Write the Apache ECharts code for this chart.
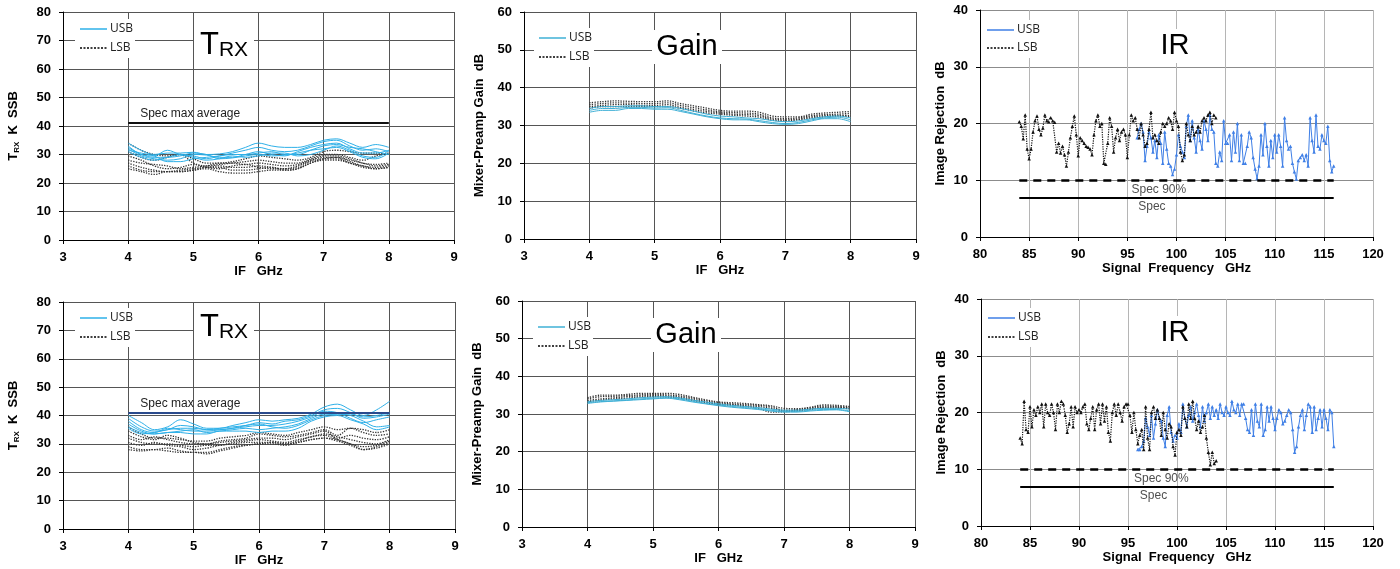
<!DOCTYPE html>
<html>
<head>
<meta charset="utf-8">
<script src="https://cdn.jsdelivr.net/npm/echarts@6/dist/echarts.min.js"></script>
<style>
html,body{margin:0;padding:0;background:#fff;}
#chart{width:1400px;height:569px;}
</style>
</head>
<body>
<div id="chart"></div>
<script>
// ---------------- DATA ----------------
const ifGHz = [4.0,4.2,4.4,4.6,4.8,5.0,5.2,5.4,5.6,5.8,6.0,6.2,6.4,6.6,6.8,7.0,7.2,7.4,7.6,7.8,8.0];

const trxTopUSB = [
  [34.0,31.5,30.0,30.5,30.5,30.8,30.0,30.2,31.0,32.5,34.0,33.0,32.5,32.5,33.5,35.0,35.5,34.0,32.5,33.5,32.5],
  [33.0,30.0,29.5,31.5,30.0,29.5,28.5,29.5,30.5,31.5,32.5,31.5,31.0,31.5,33.0,34.5,35.0,33.0,31.5,32.0,31.0],
  [32.0,29.5,28.5,28.0,28.5,30.0,29.8,29.0,29.0,30.0,31.0,30.0,29.5,31.0,32.5,33.5,34.0,32.0,30.5,30.5,31.5],
  [31.5,30.5,29.5,27.5,27.5,28.5,29.0,29.5,30.0,30.0,30.5,31.0,30.0,30.0,31.5,33.0,33.5,32.5,32.0,31.0,30.0],
  [32.5,30.0,29.0,29.0,29.5,30.5,30.0,28.5,28.8,29.5,30.0,29.5,29.8,30.5,31.5,32.0,32.5,31.0,29.0,28.5,30.5],
  [31.0,29.0,28.0,29.0,30.0,29.0,28.0,28.5,29.5,29.0,29.5,30.5,30.5,29.5,30.0,31.5,33.0,31.5,29.5,29.0,31.5]
];
const trxTopLSB = [
  [34.0,31.5,30.0,29.5,30.0,28.5,27.0,27.0,27.5,28.5,29.5,29.0,28.5,28.0,29.0,31.0,31.5,31.0,30.5,30.5,30.0],
  [31.0,29.0,28.0,29.0,30.0,27.0,26.0,26.5,27.0,27.5,28.0,27.5,27.0,27.0,28.5,30.0,30.0,29.0,28.0,29.5,30.5],
  [28.0,27.0,26.5,26.0,25.0,25.5,26.0,27.0,27.0,26.5,27.0,26.5,26.0,26.5,28.0,29.0,29.0,28.0,27.0,26.0,26.5],
  [27.0,25.5,24.5,24.0,24.5,25.0,25.5,26.0,25.5,25.5,26.0,25.5,25.0,25.5,27.5,28.5,28.5,27.0,26.0,25.0,25.5],
  [26.0,24.5,24.0,24.0,24.0,24.5,25.5,25.5,24.5,24.5,25.0,25.5,24.5,25.0,27.0,28.5,29.0,27.5,26.0,25.5,26.0],
  [25.0,24.0,23.0,24.0,24.0,24.5,25.0,24.0,23.5,23.5,24.0,24.5,24.5,25.0,27.0,28.0,28.0,27.0,25.5,25.0,25.5],
  [29.5,28.0,26.0,25.0,25.5,26.5,25.5,25.0,26.0,26.5,25.5,25.0,25.0,26.0,28.0,29.5,29.5,28.5,27.0,26.5,27.0]
];
const trxBotUSB = [
  [40.0,37.5,35.0,36.0,38.5,37.0,35.5,35.5,36.5,37.5,38.5,38.0,38.5,39.0,40.5,43.0,44.0,42.0,40.0,42.0,45.0],
  [39.0,36.0,34.5,35.0,36.5,36.0,35.0,35.5,36.0,36.5,37.5,37.0,38.0,38.5,40.0,42.0,42.5,41.0,39.0,39.5,40.5],
  [38.0,35.0,34.0,35.5,35.0,34.5,34.5,35.0,35.5,36.0,36.5,36.5,37.0,38.0,39.5,41.5,41.0,39.0,37.5,38.5,39.5],
  [37.0,34.5,33.5,34.0,34.5,35.0,34.0,34.5,35.0,35.5,35.0,35.5,36.0,37.0,39.0,40.5,40.5,40.0,38.0,36.0,36.5],
  [36.0,34.0,33.5,34.0,34.0,33.5,33.5,34.5,34.5,34.5,34.0,34.5,34.5,35.5,38.0,39.5,40.0,38.5,37.0,35.0,36.0],
  [35.5,33.5,34.0,35.0,35.5,35.5,35.0,35.0,35.5,36.5,37.0,36.0,35.5,36.5,38.5,40.0,40.5,40.5,39.5,40.0,41.0]
];
const trxBotLSB = [
  [36.0,33.5,32.0,32.0,31.5,31.0,31.0,32.0,32.5,33.0,34.0,33.5,33.0,34.0,35.0,36.0,35.0,35.5,35.0,34.0,35.0],
  [34.5,32.5,31.5,33.0,32.0,30.5,30.0,31.0,31.5,32.0,33.5,33.0,32.5,33.0,34.0,35.0,33.0,35.5,34.0,33.0,33.5],
  [33.0,31.5,32.5,31.5,30.5,30.0,30.0,30.5,31.0,31.5,32.0,32.0,31.5,32.5,33.5,34.5,32.0,33.0,32.0,31.5,32.5],
  [32.0,30.5,30.0,30.0,29.5,29.0,29.5,29.5,30.5,31.0,31.5,31.0,30.5,31.5,32.5,33.5,32.5,31.5,30.5,30.0,31.5],
  [30.5,29.5,30.5,29.5,29.0,28.0,28.5,29.5,30.0,30.5,30.5,30.5,30.0,31.0,32.5,33.0,31.5,30.0,29.0,29.5,31.0],
  [29.0,28.0,28.0,28.5,27.5,27.0,27.0,28.0,29.0,29.5,30.0,30.5,30.0,30.5,31.5,32.0,31.0,29.5,28.0,29.0,30.5],
  [28.0,27.5,28.0,27.5,27.0,27.0,26.5,27.5,28.5,29.5,30.0,30.0,29.5,30.5,31.5,32.0,31.5,30.0,28.0,28.5,30.0]
];
const trxSpecMax = 41;

const gainTopUSB = [
  [34.5,35.0,35.0,35.2,35.2,35.0,35.0,34.5,33.8,33.0,32.5,32.3,32.0,31.8,31.3,31.0,31.2,31.8,32.3,32.5,32.0],
  [34.0,34.5,34.5,34.8,34.8,34.6,34.7,34.0,33.2,32.5,32.0,31.8,31.7,31.3,30.8,30.5,30.8,31.5,32.0,32.2,31.5],
  [33.5,34.0,34.0,34.5,34.5,34.3,34.3,33.7,33.0,32.3,31.8,31.5,31.5,31.0,30.5,30.3,30.5,31.2,31.8,31.8,31.0]
];
const gainTopLSB = [
  [36.0,36.3,36.5,36.4,36.3,36.3,36.5,35.8,35.2,34.6,34.0,33.8,33.8,33.5,32.5,32.3,32.3,33.0,33.3,33.5,33.7],
  [35.5,35.8,36.0,35.9,35.8,35.8,36.0,35.3,34.7,34.1,33.6,33.4,33.3,33.0,32.0,31.8,32.0,32.6,32.9,33.0,33.2],
  [35.0,35.3,35.5,35.5,35.3,35.3,35.5,34.8,34.2,33.7,33.3,33.0,32.9,32.6,31.7,31.5,31.7,32.3,32.6,32.7,32.6],
  [34.5,35.0,35.0,35.0,35.0,35.0,35.0,34.5,33.8,33.3,33.0,32.7,32.5,32.2,31.4,31.2,31.5,32.0,32.3,32.5,32.3]
];
const gainBotUSB = [
  [33.3,33.6,33.8,34.0,34.3,34.5,34.6,34.3,33.7,33.2,32.7,32.3,32.0,31.7,31.3,31.0,31.0,31.3,31.5,31.5,31.3],
  [33.0,33.3,33.5,33.7,34.0,34.2,34.3,34.0,33.4,32.8,32.4,32.0,31.7,31.4,31.0,30.7,30.7,31.0,31.2,31.2,30.8],
  [32.8,33.2,33.4,33.6,33.8,34.0,34.2,33.8,33.2,32.7,32.2,31.8,31.5,31.2,30.8,30.5,30.5,30.8,31.0,31.1,30.6]
];
const gainBotLSB = [
  [34.3,35.0,35.0,35.2,35.5,35.5,35.5,35.2,34.5,33.8,33.2,33.0,32.8,32.5,32.2,31.5,31.4,31.8,32.4,32.3,32.0],
  [34.0,34.6,34.7,34.9,35.1,35.2,35.1,34.8,34.2,33.5,33.0,32.7,32.5,32.3,31.9,31.0,31.2,31.6,32.1,32.0,31.8],
  [33.6,34.0,34.3,34.6,34.8,34.9,34.8,34.5,33.9,33.2,32.7,32.5,32.2,32.0,31.5,30.8,31.0,31.4,31.8,31.8,31.6],
  [33.2,33.7,34.0,34.2,34.5,34.6,34.5,34.2,33.6,33.0,32.5,32.3,32.0,31.6,30.5,30.6,30.8,31.2,31.6,31.6,31.4]
];

// Image rejection: frequencies start at irLsbStart / irUsbStart, one point every irStep GHz
const irLsbStart = 84, irUsbStart = 96, irStep = 0.2;
const irTopLSB = [
  20.3,19.5,17.3,21.5,15.5,13.8,15.5,18.5,20.5,21.3,
  19.0,18.0,19.2,21.5,20.5,20.3,21.0,20.5,20.2,15.0,
  16.5,14.8,16.0,14.5,12.5,15.0,17.5,19.5,21.3,18.0,
  14.3,17.5,17.0,16.5,16.0,15.8,15.5,14.5,18.0,20.5,
  21.5,19.5,20.0,13.0,12.8,16.5,21.0,19.5,15.0,17.5,
  19.0,17.0,18.5,19.0,18.0,14.0,18.0,21.5,20.5,21.0,
  19.0,17.5,20.0,18.0,16.0,16.5,19.0,22.0,17.5,18.0,
  17.0,16.5,18.5,20.0,19.5,20.0,21.0,20.5,19.0,22.0,
  20.5,19.5,15.0,13.5,14.5,20.0,18.0,17.0,19.5,18.0,
  18.5,19.5,18.5,20.5,21.0,20.5,21.5,22.0,20.0,21.5,
  21.0
];
const irTopUSB = [
  17.5,19.0,20.0,18.5,13.5,16.0,18.5,17.5,15.0,17.0,
  14.0,18.0,16.5,13.0,18.5,15.5,13.0,12.5,11.0,12.0,
  14.5,18.0,16.0,15.0,14.0,19.5,21.5,17.0,20.5,17.5,
  15.0,19.0,17.0,15.5,20.5,19.0,17.0,21.5,19.0,18.5,
  13.0,12.5,15.0,13.5,20.5,16.5,16.5,18.0,13.5,18.5,
  15.0,20.0,13.5,18.0,13.0,13.0,16.0,18.5,17.5,14.0,
  12.0,10.3,12.5,18.0,14.5,20.0,16.0,12.5,17.0,14.0,
  18.0,15.0,18.0,16.0,12.5,21.0,17.0,15.5,16.0,13.0,
  11.5,10.2,13.5,14.0,14.5,13.5,14.5,12.5,21.0,17.0,
  15.0,21.5,16.0,15.5,18.0,17.0,16.5,19.5,13.5,11.5,
  12.5
];
const irBotLSB = [
  15.5,14.5,22.0,17.0,16.5,21.0,17.5,20.5,19.5,21.0,
  20.0,21.5,17.5,21.5,20.0,19.5,21.5,20.0,17.0,21.5,
  20.0,22.0,21.5,19.5,16.5,18.0,21.0,17.5,21.0,20.0,
  20.5,20.0,21.0,21.5,18.0,17.0,19.0,21.0,17.0,20.5,
  21.5,18.0,21.5,18.5,21.0,16.5,15.0,20.0,21.5,19.5,
  21.5,20.0,18.5,21.0,21.5,21.5,19.5,16.5,20.0,17.0,
  14.5,16.0,17.0,13.5,21.0,15.5,13.5,20.0,21.0,19.0,
  20.5,19.0,16.0,20.0,17.0,15.5,18.0,17.5,14.0,12.5,
  16.5,17.0,16.0,21.0,19.0,17.5,21.5,19.0,22.0,19.0,
  17.0,18.5,16.5,17.5,19.5,15.5,13.0,10.8,13.0,11.0,
  11.5
];
const irBotUSB = [
  13.5,13.5,14.0,15.0,19.0,17.5,16.0,19.5,15.5,18.0,
  20.5,19.0,18.5,15.5,14.0,19.5,21.0,16.5,15.0,16.0,
  15.5,18.0,16.5,21.5,19.0,17.5,19.5,21.0,18.5,20.0,
  21.5,19.5,17.5,21.0,18.5,20.0,21.5,19.0,21.0,19.5,
  20.5,19.0,21.5,20.0,19.5,21.0,20.0,19.5,22.0,20.5,
  20.0,21.5,19.5,21.5,21.5,19.0,17.0,16.5,20.5,16.0,
  21.5,18.5,17.5,21.5,16.0,17.0,21.0,18.5,21.0,19.0,
  17.0,19.0,20.5,20.0,18.0,18.5,19.5,20.5,20.0,17.0,
  13.0,14.0,17.5,19.5,20.5,17.0,19.5,21.5,21.0,16.5,
  21.0,17.0,19.0,20.5,17.5,20.5,19.0,17.0,20.5,20.0,
  14.0
];
const irSpecRange = [84, 116];
const irSpec90 = 10, irSpec = 7;
const irSpec90LabelAt = [98.2, 98.4];   // top, bottom panels
const irSpecLabelAt = [97.5, 97.6];

// ---------------- STYLE ----------------
const FONT = 'Liberation Sans';
const cCyan = '#2eb0e8', cGain = '#3fb0d6', cBlue = '#3f7fe6', cDot = '#333333';

const grids = [
  {left:63, top:12, width:391, height:228},
  {left:524, top:12, width:392, height:227},
  {left:980, top:10, width:393, height:227},
  {left:63, top:302, width:392, height:227},
  {left:522, top:301, width:393, height:226},
  {left:981, top:299, width:392, height:227}
];

const axLabel = {fontFamily:FONT, fontWeight:'bold', fontSize:13, color:'#000'};
const nameStyle = {fontFamily:FONT, fontWeight:'bold', fontSize:13, color:'#000'};

function xAx(i, kind) {
  const ir = kind === 'ir';
  return {
    type:'value', gridIndex:i,
    min: ir ? 80 : 3, max: ir ? 120 : 9, interval: ir ? 5 : 1,
    name: ir ? 'Signal  Frequency   GHz' : 'IF   GHz',
    nameLocation:'middle', nameGap:24, nameTextStyle:nameStyle,
    axisLine:{show:true, onZero:false, lineStyle:{color:'#000', width:1}},
    axisTick:{show:true, length:4, lineStyle:{color:'#000'}},
    axisLabel:Object.assign({margin:11}, axLabel),
    splitLine:{show:true, lineStyle:{color: ir ? '#b5b5b5' : '#555', width:1}}
  };
}
function yAx(i, kind) {
  const cfg = {
    trx:{max:80, name:'{t|T}{s|RX}{t|  K  SSB}', gap:42},
    gain:{max:60, name:'Mixer-Preamp Gain  dB', gap:38},
    ir:{max:40, name:'Image Rejection  dB', gap:33}
  }[kind];
  return {
    type:'value', gridIndex:i, min:0, max:cfg.max, interval:10,
    name:cfg.name, nameLocation:'middle', nameGap:cfg.gap,
    nameTextStyle:Object.assign({rich:{
      t:{fontFamily:FONT, fontWeight:'bold', fontSize:13, color:'#000'},
      s:{fontFamily:FONT, fontWeight:'bold', fontSize:8, color:'#000', padding:[7,0,0,0]}
    }}, nameStyle),
    axisLine:{show:true, onZero:false, lineStyle:{color:'#000', width:1}},
    axisTick:{show:true, length:4, lineStyle:{color:'#000'}},
    axisLabel:Object.assign({margin:12}, axLabel),
    splitLine:{show:true, lineStyle:{color: kind==='ir' ? '#8c8c8c' : '#555', width:1}}
  };
}

function curveSeries(g, rows, color, dotted) {
  return rows.map(row => ({
    type:'line', name: dotted ? 'LSB' : 'USB', xAxisIndex:g, yAxisIndex:g,
    data: ifGHz.map((x, i) => [x, row[i]]),
    symbol:'none', smooth:0.35, silent:true,
    lineStyle:{color:color, width: dotted ? 1.3 : 1, type: dotted ? 'dotted' : 'solid'},
    z: dotted ? 3 : 4
  }));
}
function irSeries(g, vals, start, color, dotted) {
  return {
    type:'line', name: dotted ? 'LSB' : 'USB', xAxisIndex:g, yAxisIndex:g,
    data: vals.map((v, i) => [Math.round((start + i * irStep) * 10) / 10, v]),
    symbol:'triangle', symbolSize:3.5, showSymbol:true, silent:true,
    itemStyle:{color:color},
    lineStyle:{color:color, width: dotted ? 1.2 : 1, type: dotted ? 'dotted' : 'solid'},
    z: dotted ? 4 : 3
  };
}
function specLine(g, y, color, label) {
  return {
    type:'line', xAxisIndex:g, yAxisIndex:g, data:[], silent:true,
    markLine:{
      symbol:'none', silent:true, animation:false,
      lineStyle:{color:color, width:2, type:'solid'},
      label:{show:true, position:'insideStartTop', formatter:label, distance:[12,3],
        fontFamily:FONT, fontSize:12, color:'#222'},
      data:[[{coord:[ifGHz[0], y]}, {coord:[ifGHz[ifGHz.length-1], y]}]]
    }
  };
}
function irSpecSeries(g, k) {
  return [
    {type:'line', xAxisIndex:g, yAxisIndex:g, data:[], silent:true,
      markLine:{symbol:'none', silent:true, animation:false, label:{show:false},
        data:[
          [{coord:[irSpecRange[0], irSpec90], lineStyle:{color:'#000', width:2.5, type:[8,6]}},
           {coord:[irSpecRange[1], irSpec90]}],
          [{coord:[irSpecRange[0], irSpec], lineStyle:{color:'#000', width:2.2, type:'solid'}},
           {coord:[irSpecRange[1], irSpec]}]
        ]}},
    {type:'scatter', xAxisIndex:g, yAxisIndex:g, silent:true, symbolSize:1,
      itemStyle:{color:'rgba(0,0,0,0)'},
      label:{show:true, position:'bottom', distance:3, fontFamily:FONT, fontSize:12, color:'#222',
        formatter: p => p.data[2]},
      data:[[irSpec90LabelAt[k], irSpec90, 'Spec 90%'], [irSpecLabelAt[k], irSpec, 'Spec']]}
  ];
}

// ---------------- GRAPHIC (legends & titles) ----------------
function legend(x, y1, y2, usbColor) {
  return [
    {type:'rect', shape:{x:x-5, y:y1-10, width:60, height:y2-y1+20}, style:{fill:'#fff'}, z:100},
    {type:'line', shape:{x1:x, y1:y1, x2:x+27, y2:y1}, style:{stroke:usbColor, lineWidth:1.5}, z:101},
    {type:'text', x:x+30, y:y1, z:101, style:{text:'USB', fill:'#222', fontFamily:'Open Sans', fontSize:12, verticalAlign:'middle'}},
    {type:'line', shape:{x1:x, y1:y2, x2:x+27, y2:y2}, style:{stroke:'#000', lineWidth:1.3, lineDash:[2,1.5]}, z:101},
    {type:'text', x:x+30, y:y2, z:101, style:{text:'LSB', fill:'#222', fontFamily:'Open Sans', fontSize:12, verticalAlign:'middle'}}
  ];
}
function title(cx, cy, kind) {
  const els = [];
  if (kind === 'trx') {
    els.push({type:'rect', shape:{x:cx-30, y:cy-15, width:60, height:30}, style:{fill:'#fff'}, z:100});
    els.push({type:'text', x:cx, y:cy, z:101, style:{
      text:'{a|T}{b|RX}', align:'center', verticalAlign:'middle',
      rich:{a:{fontFamily:FONT, fontSize:31, fill:'#000', verticalAlign:'bottom', lineHeight:32},
            b:{fontFamily:FONT, fontSize:21, fill:'#000', verticalAlign:'bottom', lineHeight:29}}}});
  } else {
    const txt = kind === 'gain' ? 'Gain' : 'IR';
    const w = kind === 'gain' ? 70 : 38;
    els.push({type:'rect', shape:{x:cx-w/2, y:cy-17, width:w, height:34}, style:{fill:'#fff'}, z:100});
    els.push({type:'text', x:cx, y:cy, z:101, style:{text:txt, fontFamily:FONT, fontSize:29, fill:'#000',
      align:'center', verticalAlign:'middle'}});
  }
  return els;
}

const graphic = [].concat(
  legend(80, 29, 48, cCyan), title(224, 45, 'trx'),
  legend(539, 38, 57, cGain), title(687, 47, 'gain'),
  legend(987, 30, 48, cBlue), title(1175, 46, 'ir'),
  legend(80, 318, 337, cCyan), title(224, 327, 'trx'),
  legend(538, 327, 346, cGain), title(686, 335, 'gain'),
  legend(988, 318, 337, cBlue), title(1175, 333, 'ir')
);

// ---------------- OPTION ----------------
const kinds = ['trx','gain','ir','trx','gain','ir'];
const series = [].concat(
  curveSeries(0, trxTopLSB, cDot, true), curveSeries(0, trxTopUSB, cCyan, false),
  [specLine(0, trxSpecMax, '#111', 'Spec max average')],
  curveSeries(1, gainTopUSB, cGain, false), curveSeries(1, gainTopLSB, cDot, true),
  irSpecSeries(2, 0),
  [irSeries(2, irTopUSB, irUsbStart, cBlue, false), irSeries(2, irTopLSB, irLsbStart, '#111', true)],
  curveSeries(3, trxBotLSB, cDot, true), curveSeries(3, trxBotUSB, cCyan, false),
  [specLine(3, trxSpecMax, '#2a4a8c', 'Spec max average')],
  curveSeries(4, gainBotUSB, cGain, false), curveSeries(4, gainBotLSB, cDot, true),
  irSpecSeries(5, 1),
  [irSeries(5, irBotUSB, irUsbStart, cBlue, false), irSeries(5, irBotLSB, irLsbStart, '#111', true)]
);

const option = {
  animation:false,
  backgroundColor:'#fff',
  grid: grids.map(g => Object.assign({containLabel:false}, g)),
  xAxis: kinds.map((k, i) => xAx(i, k)),
  yAxis: kinds.map((k, i) => yAx(i, k)),
  series: series,
  graphic: graphic
};

const chart = echarts.init(document.getElementById('chart'), null, {renderer:'canvas'});
chart.setOption(option);
</script>
</body>
</html>
